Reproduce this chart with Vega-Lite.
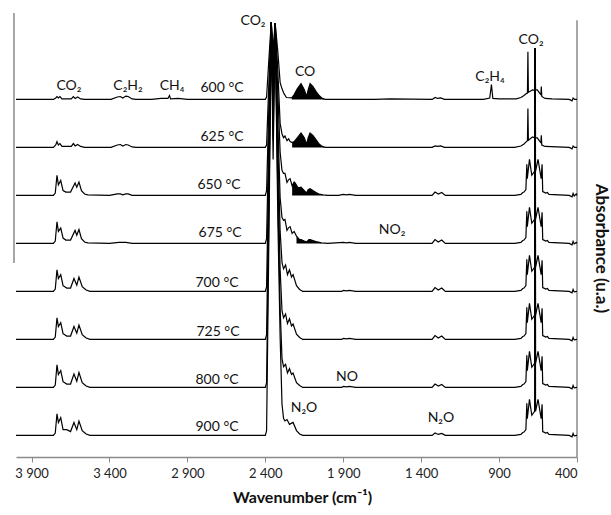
{
"$schema":"https://vega.github.io/schema/vega-lite/v6.json",
"width":561,"height":450,
"autosize":{"type":"none"},
"padding":{"left":16,"top":7,"right":34,"bottom":58},
"background":"white",
"config":{"view":{"stroke":null},"font":"Lato"},
"datasets":{
"sp":[
{"t":"600","w":4000,"a":7.45},{"t":"600","w":3760,"a":7.45},{"t":"600","w":3745,"a":7.48},{"t":"600","w":3737,"a":7.51},{"t":"600","w":3728,"a":7.48},{"t":"600","w":3718,"a":7.51},{"t":"600","w":3705,"a":7.46},{"t":"600","w":3645,"a":7.46},{"t":"600","w":3632,"a":7.51},{"t":"600","w":3620,"a":7.47},{"t":"600","w":3605,"a":7.5},{"t":"600","w":3585,"a":7.46},{"t":"600","w":3560,"a":7.45},{"t":"600","w":3390,"a":7.45},{"t":"600","w":3350,"a":7.5},{"t":"600","w":3330,"a":7.51},{"t":"600","w":3315,"a":7.48},{"t":"600","w":3295,"a":7.52},{"t":"600","w":3280,"a":7.51},{"t":"600","w":3255,"a":7.46},{"t":"600","w":3230,"a":7.45},{"t":"600","w":3130,"a":7.45},{"t":"600","w":3070,"a":7.47},{"t":"600","w":3025,"a":7.47},{"t":"600","w":3015,"a":7.53},{"t":"600","w":3008,"a":7.46},{"t":"600","w":2960,"a":7.47},{"t":"600","w":2900,"a":7.45},{"t":"600","w":2400,"a":7.45},{"t":"600","w":2392,"a":7.5},{"t":"600","w":2376,"a":8.35},{"t":"600","w":2362,"a":9.06},{"t":"600","w":2350,"a":8.5},{"t":"600","w":2337,"a":9.04},{"t":"600","w":2320,"a":8.45},{"t":"600","w":2305,"a":7.8},{"t":"600","w":2293,"a":7.67},{"t":"600","w":2280,"a":7.57},{"t":"600","w":2265,"a":7.49},{"t":"600","w":2230,"a":7.48},{"t":"600","w":2215,"a":7.55},{"t":"600","w":2195,"a":7.67},{"t":"600","w":2171,"a":7.78},{"t":"600","w":2150,"a":7.65},{"t":"600","w":2135,"a":7.51},{"t":"600","w":2125,"a":7.65},{"t":"600","w":2113,"a":7.78},{"t":"600","w":2095,"a":7.72},{"t":"600","w":2075,"a":7.62},{"t":"600","w":2055,"a":7.53},{"t":"600","w":2035,"a":7.47},{"t":"600","w":2015,"a":7.45},{"t":"600","w":1700,"a":7.45},{"t":"600","w":1600,"a":7.46},{"t":"600","w":1330,"a":7.45},{"t":"600","w":1310,"a":7.49},{"t":"600","w":1295,"a":7.47},{"t":"600","w":1275,"a":7.48},{"t":"600","w":1250,"a":7.45},{"t":"600","w":1000,"a":7.45},{"t":"600","w":960,"a":7.48},{"t":"600","w":949,"a":7.76},{"t":"600","w":940,"a":7.47},{"t":"600","w":900,"a":7.46},{"t":"600","w":790,"a":7.46},{"t":"600","w":760,"a":7.49},{"t":"600","w":740,"a":7.53},{"t":"600","w":725,"a":7.57},{"t":"600","w":718,"a":7.58},{"t":"600","w":715,"a":8.44},{"t":"600","w":712,"a":7.6},{"t":"600","w":700,"a":7.62},{"t":"600","w":685,"a":7.65},{"t":"600","w":672,"a":7.64},{"t":"600","w":669,"a":8.52},{"t":"600","w":666,"a":7.65},{"t":"600","w":655,"a":7.65},{"t":"600","w":640,"a":7.58},{"t":"600","w":632,"a":7.55},{"t":"600","w":629,"a":7.72},{"t":"600","w":626,"a":7.51},{"t":"600","w":605,"a":7.47},{"t":"600","w":560,"a":7.46},{"t":"600","w":450,"a":7.45},{"t":"600","w":432,"a":7.42},{"t":"600","w":425,"a":7.48},{"t":"600","w":415,"a":7.45},{"t":"600","w":400,"a":7.45},
{"t":"625","w":4000,"a":6.45},{"t":"625","w":3760,"a":6.45},{"t":"625","w":3745,"a":6.5},{"t":"625","w":3737,"a":6.57},{"t":"625","w":3728,"a":6.5},{"t":"625","w":3718,"a":6.53},{"t":"625","w":3705,"a":6.47},{"t":"625","w":3645,"a":6.47},{"t":"625","w":3632,"a":6.53},{"t":"625","w":3620,"a":6.48},{"t":"625","w":3605,"a":6.51},{"t":"625","w":3585,"a":6.47},{"t":"625","w":3560,"a":6.45},{"t":"625","w":3390,"a":6.45},{"t":"625","w":3350,"a":6.5},{"t":"625","w":3330,"a":6.51},{"t":"625","w":3315,"a":6.48},{"t":"625","w":3295,"a":6.51},{"t":"625","w":3280,"a":6.5},{"t":"625","w":3255,"a":6.46},{"t":"625","w":3230,"a":6.45},{"t":"625","w":2400,"a":6.45},{"t":"625","w":2392,"a":6.5},{"t":"625","w":2376,"a":7.9},{"t":"625","w":2362,"a":9.06},{"t":"625","w":2350,"a":8.2},{"t":"625","w":2337,"a":9.04},{"t":"625","w":2320,"a":8.05},{"t":"625","w":2305,"a":6.95},{"t":"625","w":2293,"a":6.73},{"t":"625","w":2283,"a":6.65},{"t":"625","w":2274,"a":6.69},{"t":"625","w":2261,"a":6.59},{"t":"625","w":2250,"a":6.63},{"t":"625","w":2241,"a":6.57},{"t":"625","w":2228,"a":6.55},{"t":"625","w":2215,"a":6.57},{"t":"625","w":2195,"a":6.65},{"t":"625","w":2171,"a":6.75},{"t":"625","w":2150,"a":6.65},{"t":"625","w":2135,"a":6.51},{"t":"625","w":2125,"a":6.65},{"t":"625","w":2113,"a":6.75},{"t":"625","w":2095,"a":6.7},{"t":"625","w":2075,"a":6.61},{"t":"625","w":2055,"a":6.52},{"t":"625","w":2035,"a":6.47},{"t":"625","w":2015,"a":6.45},{"t":"625","w":1700,"a":6.45},{"t":"625","w":1330,"a":6.45},{"t":"625","w":1310,"a":6.48},{"t":"625","w":1295,"a":6.47},{"t":"625","w":1275,"a":6.48},{"t":"625","w":1250,"a":6.45},{"t":"625","w":800,"a":6.45},{"t":"625","w":760,"a":6.48},{"t":"625","w":740,"a":6.52},{"t":"625","w":725,"a":6.57},{"t":"625","w":718,"a":6.59},{"t":"625","w":715,"a":7.26},{"t":"625","w":712,"a":6.6},{"t":"625","w":700,"a":6.63},{"t":"625","w":685,"a":6.67},{"t":"625","w":672,"a":6.65},{"t":"625","w":669,"a":8.52},{"t":"625","w":666,"a":6.65},{"t":"625","w":655,"a":6.65},{"t":"625","w":640,"a":6.58},{"t":"625","w":632,"a":6.55},{"t":"625","w":629,"a":6.7},{"t":"625","w":626,"a":6.5},{"t":"625","w":605,"a":6.47},{"t":"625","w":450,"a":6.45},{"t":"625","w":432,"a":6.42},{"t":"625","w":425,"a":6.48},{"t":"625","w":415,"a":6.45},{"t":"625","w":400,"a":6.45},
{"t":"650","w":4000,"a":5.45},{"t":"650","w":3760,"a":5.45},{"t":"650","w":3748,"a":5.5},{"t":"650","w":3737,"a":5.87},{"t":"650","w":3728,"a":5.67},{"t":"650","w":3713,"a":5.76},{"t":"650","w":3698,"a":5.55},{"t":"650","w":3680,"a":5.52},{"t":"650","w":3650,"a":5.52},{"t":"650","w":3621,"a":5.71},{"t":"650","w":3610,"a":5.62},{"t":"650","w":3596,"a":5.73},{"t":"650","w":3580,"a":5.55},{"t":"650","w":3560,"a":5.48},{"t":"650","w":3540,"a":5.46},{"t":"650","w":3400,"a":5.45},{"t":"650","w":3350,"a":5.48},{"t":"650","w":3330,"a":5.48},{"t":"650","w":3315,"a":5.46},{"t":"650","w":3295,"a":5.48},{"t":"650","w":3280,"a":5.48},{"t":"650","w":3255,"a":5.45},{"t":"650","w":2400,"a":5.45},{"t":"650","w":2392,"a":5.55},{"t":"650","w":2376,"a":7.45},{"t":"650","w":2362,"a":9.06},{"t":"650","w":2350,"a":7.95},{"t":"650","w":2337,"a":9.04},{"t":"650","w":2320,"a":7.6},{"t":"650","w":2305,"a":6.35},{"t":"650","w":2293,"a":5.97},{"t":"650","w":2283,"a":5.91},{"t":"650","w":2274,"a":5.91},{"t":"650","w":2261,"a":5.72},{"t":"650","w":2250,"a":5.78},{"t":"650","w":2241,"a":5.8},{"t":"650","w":2228,"a":5.65},{"t":"650","w":2215,"a":5.73},{"t":"650","w":2209,"a":5.71},{"t":"650","w":2190,"a":5.61},{"t":"650","w":2171,"a":5.62},{"t":"650","w":2150,"a":5.55},{"t":"650","w":2135,"a":5.5},{"t":"650","w":2125,"a":5.57},{"t":"650","w":2113,"a":5.59},{"t":"650","w":2095,"a":5.55},{"t":"650","w":2075,"a":5.51},{"t":"650","w":2055,"a":5.48},{"t":"650","w":2030,"a":5.46},{"t":"650","w":2000,"a":5.45},{"t":"650","w":1930,"a":5.45},{"t":"650","w":1900,"a":5.47},{"t":"650","w":1880,"a":5.46},{"t":"650","w":1860,"a":5.47},{"t":"650","w":1820,"a":5.45},{"t":"650","w":1330,"a":5.45},{"t":"650","w":1311,"a":5.52},{"t":"650","w":1290,"a":5.48},{"t":"650","w":1268,"a":5.51},{"t":"650","w":1245,"a":5.45},{"t":"650","w":800,"a":5.45},{"t":"650","w":760,"a":5.47},{"t":"650","w":748,"a":5.51},{"t":"650","w":740,"a":5.52},{"t":"650","w":728,"a":5.57},{"t":"650","w":722,"a":6.1},{"t":"650","w":719,"a":5.8},{"t":"650","w":705,"a":6.2},{"t":"650","w":690,"a":5.87},{"t":"650","w":672,"a":5.95},{"t":"650","w":669,"a":8.52},{"t":"650","w":666,"a":5.95},{"t":"650","w":650,"a":6.2},{"t":"650","w":630,"a":5.8},{"t":"650","w":624,"a":6.1},{"t":"650","w":620,"a":5.53},{"t":"650","w":600,"a":5.5},{"t":"650","w":590,"a":5.51},{"t":"650","w":580,"a":5.47},{"t":"650","w":450,"a":5.45},{"t":"650","w":432,"a":5.42},{"t":"650","w":425,"a":5.49},{"t":"650","w":418,"a":5.44},{"t":"650","w":405,"a":5.48},{"t":"650","w":400,"a":5.45},
{"t":"675","w":4000,"a":4.45},{"t":"675","w":3760,"a":4.45},{"t":"675","w":3748,"a":4.5},{"t":"675","w":3737,"a":4.9},{"t":"675","w":3728,"a":4.7},{"t":"675","w":3713,"a":4.77},{"t":"675","w":3698,"a":4.56},{"t":"675","w":3680,"a":4.52},{"t":"675","w":3650,"a":4.52},{"t":"675","w":3621,"a":4.72},{"t":"675","w":3610,"a":4.62},{"t":"675","w":3596,"a":4.74},{"t":"675","w":3580,"a":4.55},{"t":"675","w":3560,"a":4.48},{"t":"675","w":3540,"a":4.46},{"t":"675","w":3400,"a":4.45},{"t":"675","w":3340,"a":4.47},{"t":"675","w":3295,"a":4.47},{"t":"675","w":3255,"a":4.45},{"t":"675","w":2400,"a":4.45},{"t":"675","w":2392,"a":4.55},{"t":"675","w":2376,"a":6.95},{"t":"675","w":2362,"a":9.06},{"t":"675","w":2350,"a":7.65},{"t":"675","w":2337,"a":9.04},{"t":"675","w":2320,"a":7.0},{"t":"675","w":2305,"a":5.4},{"t":"675","w":2293,"a":4.99},{"t":"675","w":2283,"a":4.93},{"t":"675","w":2274,"a":4.95},{"t":"675","w":2261,"a":4.72},{"t":"675","w":2250,"a":4.78},{"t":"675","w":2241,"a":4.8},{"t":"675","w":2228,"a":4.66},{"t":"675","w":2215,"a":4.7},{"t":"675","w":2200,"a":4.6},{"t":"675","w":2180,"a":4.53},{"t":"675","w":2171,"a":4.53},{"t":"675","w":2150,"a":4.5},{"t":"675","w":2135,"a":4.48},{"t":"675","w":2120,"a":4.53},{"t":"675","w":2113,"a":4.53},{"t":"675","w":2095,"a":4.51},{"t":"675","w":2075,"a":4.49},{"t":"675","w":2040,"a":4.46},{"t":"675","w":2000,"a":4.45},{"t":"675","w":1900,"a":4.47},{"t":"675","w":1880,"a":4.46},{"t":"675","w":1860,"a":4.47},{"t":"675","w":1820,"a":4.45},{"t":"675","w":1330,"a":4.45},{"t":"675","w":1311,"a":4.53},{"t":"675","w":1290,"a":4.48},{"t":"675","w":1268,"a":4.52},{"t":"675","w":1245,"a":4.45},{"t":"675","w":800,"a":4.45},{"t":"675","w":760,"a":4.47},{"t":"675","w":748,"a":4.51},{"t":"675","w":740,"a":4.52},{"t":"675","w":728,"a":4.57},{"t":"675","w":722,"a":5.12},{"t":"675","w":719,"a":4.8},{"t":"675","w":705,"a":5.2},{"t":"675","w":690,"a":4.87},{"t":"675","w":672,"a":4.95},{"t":"675","w":669,"a":8.52},{"t":"675","w":666,"a":4.95},{"t":"675","w":650,"a":5.2},{"t":"675","w":630,"a":4.8},{"t":"675","w":624,"a":5.1},{"t":"675","w":620,"a":4.53},{"t":"675","w":600,"a":4.5},{"t":"675","w":590,"a":4.51},{"t":"675","w":580,"a":4.47},{"t":"675","w":450,"a":4.45},{"t":"675","w":432,"a":4.42},{"t":"675","w":425,"a":4.49},{"t":"675","w":418,"a":4.44},{"t":"675","w":405,"a":4.47},{"t":"675","w":400,"a":4.45},
{"t":"700","w":4000,"a":3.45},{"t":"700","w":3760,"a":3.45},{"t":"700","w":3748,"a":3.5},{"t":"700","w":3737,"a":3.9},{"t":"700","w":3728,"a":3.72},{"t":"700","w":3713,"a":3.8},{"t":"700","w":3698,"a":3.57},{"t":"700","w":3674,"a":3.52},{"t":"700","w":3650,"a":3.52},{"t":"700","w":3628,"a":3.72},{"t":"700","w":3610,"a":3.58},{"t":"700","w":3596,"a":3.75},{"t":"700","w":3575,"a":3.55},{"t":"700","w":3550,"a":3.48},{"t":"700","w":3525,"a":3.45},{"t":"700","w":2400,"a":3.45},{"t":"700","w":2392,"a":3.55},{"t":"700","w":2376,"a":6.4},{"t":"700","w":2362,"a":9.06},{"t":"700","w":2350,"a":7.3},{"t":"700","w":2337,"a":9.04},{"t":"700","w":2320,"a":6.5},{"t":"700","w":2305,"a":4.7},{"t":"700","w":2293,"a":4.05},{"t":"700","w":2283,"a":3.92},{"t":"700","w":2270,"a":4.0},{"t":"700","w":2258,"a":3.8},{"t":"700","w":2245,"a":3.9},{"t":"700","w":2232,"a":3.75},{"t":"700","w":2222,"a":3.8},{"t":"700","w":2200,"a":3.57},{"t":"700","w":2180,"a":3.49},{"t":"700","w":2160,"a":3.45},{"t":"700","w":1910,"a":3.45},{"t":"700","w":1900,"a":3.47},{"t":"700","w":1880,"a":3.46},{"t":"700","w":1860,"a":3.47},{"t":"700","w":1820,"a":3.45},{"t":"700","w":1330,"a":3.45},{"t":"700","w":1311,"a":3.53},{"t":"700","w":1290,"a":3.48},{"t":"700","w":1268,"a":3.52},{"t":"700","w":1245,"a":3.45},{"t":"700","w":800,"a":3.45},{"t":"700","w":760,"a":3.47},{"t":"700","w":748,"a":3.51},{"t":"700","w":740,"a":3.52},{"t":"700","w":728,"a":3.57},{"t":"700","w":722,"a":4.12},{"t":"700","w":719,"a":3.8},{"t":"700","w":705,"a":4.2},{"t":"700","w":690,"a":3.87},{"t":"700","w":672,"a":3.95},{"t":"700","w":669,"a":8.52},{"t":"700","w":666,"a":3.95},{"t":"700","w":650,"a":4.2},{"t":"700","w":630,"a":3.8},{"t":"700","w":624,"a":4.1},{"t":"700","w":620,"a":3.53},{"t":"700","w":600,"a":3.5},{"t":"700","w":590,"a":3.51},{"t":"700","w":580,"a":3.47},{"t":"700","w":450,"a":3.45},{"t":"700","w":432,"a":3.42},{"t":"700","w":425,"a":3.49},{"t":"700","w":418,"a":3.44},{"t":"700","w":400,"a":3.45},
{"t":"725","w":4000,"a":2.45},{"t":"725","w":3760,"a":2.45},{"t":"725","w":3748,"a":2.5},{"t":"725","w":3737,"a":2.9},{"t":"725","w":3728,"a":2.72},{"t":"725","w":3713,"a":2.8},{"t":"725","w":3698,"a":2.57},{"t":"725","w":3674,"a":2.52},{"t":"725","w":3650,"a":2.52},{"t":"725","w":3628,"a":2.72},{"t":"725","w":3610,"a":2.58},{"t":"725","w":3596,"a":2.75},{"t":"725","w":3575,"a":2.55},{"t":"725","w":3550,"a":2.48},{"t":"725","w":3525,"a":2.45},{"t":"725","w":2400,"a":2.45},{"t":"725","w":2392,"a":2.55},{"t":"725","w":2376,"a":5.9},{"t":"725","w":2362,"a":9.06},{"t":"725","w":2350,"a":7.0},{"t":"725","w":2337,"a":9.04},{"t":"725","w":2320,"a":6.0},{"t":"725","w":2305,"a":3.9},{"t":"725","w":2293,"a":3.05},{"t":"725","w":2283,"a":2.9},{"t":"725","w":2270,"a":2.98},{"t":"725","w":2258,"a":2.78},{"t":"725","w":2245,"a":2.88},{"t":"725","w":2232,"a":2.73},{"t":"725","w":2222,"a":2.77},{"t":"725","w":2200,"a":2.56},{"t":"725","w":2180,"a":2.49},{"t":"725","w":2160,"a":2.45},{"t":"725","w":1910,"a":2.45},{"t":"725","w":1900,"a":2.47},{"t":"725","w":1880,"a":2.46},{"t":"725","w":1860,"a":2.47},{"t":"725","w":1820,"a":2.45},{"t":"725","w":1330,"a":2.45},{"t":"725","w":1311,"a":2.53},{"t":"725","w":1290,"a":2.48},{"t":"725","w":1268,"a":2.52},{"t":"725","w":1245,"a":2.45},{"t":"725","w":800,"a":2.45},{"t":"725","w":760,"a":2.47},{"t":"725","w":748,"a":2.51},{"t":"725","w":740,"a":2.52},{"t":"725","w":728,"a":2.57},{"t":"725","w":722,"a":3.12},{"t":"725","w":719,"a":2.8},{"t":"725","w":705,"a":3.2},{"t":"725","w":690,"a":2.87},{"t":"725","w":672,"a":2.95},{"t":"725","w":669,"a":8.52},{"t":"725","w":666,"a":2.95},{"t":"725","w":650,"a":3.2},{"t":"725","w":630,"a":2.8},{"t":"725","w":624,"a":3.1},{"t":"725","w":620,"a":2.53},{"t":"725","w":600,"a":2.5},{"t":"725","w":590,"a":2.51},{"t":"725","w":580,"a":2.47},{"t":"725","w":450,"a":2.45},{"t":"725","w":432,"a":2.42},{"t":"725","w":425,"a":2.49},{"t":"725","w":418,"a":2.44},{"t":"725","w":400,"a":2.45},
{"t":"800","w":4000,"a":1.45},{"t":"800","w":3760,"a":1.45},{"t":"800","w":3748,"a":1.5},{"t":"800","w":3737,"a":1.92},{"t":"800","w":3728,"a":1.72},{"t":"800","w":3713,"a":1.8},{"t":"800","w":3698,"a":1.57},{"t":"800","w":3674,"a":1.52},{"t":"800","w":3650,"a":1.52},{"t":"800","w":3628,"a":1.73},{"t":"800","w":3610,"a":1.58},{"t":"800","w":3596,"a":1.76},{"t":"800","w":3575,"a":1.55},{"t":"800","w":3550,"a":1.48},{"t":"800","w":3525,"a":1.45},{"t":"800","w":2400,"a":1.45},{"t":"800","w":2392,"a":1.55},{"t":"800","w":2376,"a":5.4},{"t":"800","w":2362,"a":9.06},{"t":"800","w":2350,"a":6.6},{"t":"800","w":2337,"a":9.04},{"t":"800","w":2320,"a":5.5},{"t":"800","w":2305,"a":3.1},{"t":"800","w":2293,"a":2.05},{"t":"800","w":2283,"a":1.88},{"t":"800","w":2270,"a":1.93},{"t":"800","w":2258,"a":1.75},{"t":"800","w":2245,"a":1.84},{"t":"800","w":2232,"a":1.72},{"t":"800","w":2222,"a":1.75},{"t":"800","w":2200,"a":1.55},{"t":"800","w":2180,"a":1.49},{"t":"800","w":2160,"a":1.45},{"t":"800","w":1910,"a":1.45},{"t":"800","w":1900,"a":1.47},{"t":"800","w":1880,"a":1.46},{"t":"800","w":1860,"a":1.47},{"t":"800","w":1820,"a":1.45},{"t":"800","w":1330,"a":1.45},{"t":"800","w":1311,"a":1.52},{"t":"800","w":1290,"a":1.48},{"t":"800","w":1268,"a":1.51},{"t":"800","w":1245,"a":1.45},{"t":"800","w":800,"a":1.45},{"t":"800","w":760,"a":1.47},{"t":"800","w":748,"a":1.51},{"t":"800","w":740,"a":1.52},{"t":"800","w":728,"a":1.57},{"t":"800","w":722,"a":2.12},{"t":"800","w":719,"a":1.8},{"t":"800","w":705,"a":2.2},{"t":"800","w":690,"a":1.87},{"t":"800","w":672,"a":1.95},{"t":"800","w":669,"a":8.52},{"t":"800","w":666,"a":1.95},{"t":"800","w":650,"a":2.2},{"t":"800","w":630,"a":1.8},{"t":"800","w":624,"a":2.1},{"t":"800","w":620,"a":1.53},{"t":"800","w":600,"a":1.5},{"t":"800","w":590,"a":1.51},{"t":"800","w":580,"a":1.47},{"t":"800","w":450,"a":1.45},{"t":"800","w":432,"a":1.42},{"t":"800","w":425,"a":1.49},{"t":"800","w":418,"a":1.44},{"t":"800","w":400,"a":1.45},
{"t":"900","w":4000,"a":0.45},{"t":"900","w":3760,"a":0.45},{"t":"900","w":3748,"a":0.5},{"t":"900","w":3737,"a":0.9},{"t":"900","w":3728,"a":0.72},{"t":"900","w":3713,"a":0.82},{"t":"900","w":3698,"a":0.57},{"t":"900","w":3674,"a":0.57},{"t":"900","w":3650,"a":0.53},{"t":"900","w":3628,"a":0.72},{"t":"900","w":3610,"a":0.57},{"t":"900","w":3596,"a":0.75},{"t":"900","w":3575,"a":0.55},{"t":"900","w":3550,"a":0.48},{"t":"900","w":3525,"a":0.45},{"t":"900","w":2400,"a":0.45},{"t":"900","w":2392,"a":0.55},{"t":"900","w":2376,"a":4.9},{"t":"900","w":2362,"a":9.06},{"t":"900","w":2350,"a":6.2},{"t":"900","w":2337,"a":9.04},{"t":"900","w":2320,"a":5.0},{"t":"900","w":2305,"a":2.5},{"t":"900","w":2293,"a":1.1},{"t":"900","w":2283,"a":0.8},{"t":"900","w":2274,"a":0.75},{"t":"900","w":2261,"a":0.78},{"t":"900","w":2245,"a":0.68},{"t":"900","w":2222,"a":0.72},{"t":"900","w":2200,"a":0.55},{"t":"900","w":2180,"a":0.48},{"t":"900","w":2160,"a":0.45},{"t":"900","w":1330,"a":0.45},{"t":"900","w":1311,"a":0.5},{"t":"900","w":1290,"a":0.47},{"t":"900","w":1268,"a":0.49},{"t":"900","w":1245,"a":0.45},{"t":"900","w":800,"a":0.45},{"t":"900","w":760,"a":0.47},{"t":"900","w":748,"a":0.51},{"t":"900","w":740,"a":0.52},{"t":"900","w":728,"a":0.57},{"t":"900","w":722,"a":1.12},{"t":"900","w":719,"a":0.8},{"t":"900","w":705,"a":1.2},{"t":"900","w":690,"a":0.87},{"t":"900","w":672,"a":0.95},{"t":"900","w":669,"a":8.52},{"t":"900","w":666,"a":0.95},{"t":"900","w":650,"a":1.2},{"t":"900","w":630,"a":0.8},{"t":"900","w":624,"a":1.1},{"t":"900","w":620,"a":0.53},{"t":"900","w":600,"a":0.5},{"t":"900","w":590,"a":0.51},{"t":"900","w":580,"a":0.47},{"t":"900","w":450,"a":0.45},{"t":"900","w":432,"a":0.42},{"t":"900","w":425,"a":0.49},{"t":"900","w":418,"a":0.44},{"t":"900","w":400,"a":0.45}
],
"co":[
{"t":"600","w":2230,"a":7.48,"b":7.45},{"t":"600","w":2215,"a":7.55,"b":7.45},{"t":"600","w":2195,"a":7.67,"b":7.45},{"t":"600","w":2171,"a":7.78,"b":7.45},{"t":"600","w":2150,"a":7.65,"b":7.45},{"t":"600","w":2135,"a":7.51,"b":7.45},{"t":"600","w":2125,"a":7.65,"b":7.45},{"t":"600","w":2113,"a":7.78,"b":7.45},{"t":"600","w":2095,"a":7.72,"b":7.45},{"t":"600","w":2075,"a":7.62,"b":7.45},{"t":"600","w":2055,"a":7.53,"b":7.45},{"t":"600","w":2035,"a":7.47,"b":7.45},{"t":"600","w":2015,"a":7.45,"b":7.45},
{"t":"625","w":2228,"a":6.55,"b":6.45},{"t":"625","w":2215,"a":6.57,"b":6.45},{"t":"625","w":2195,"a":6.65,"b":6.45},{"t":"625","w":2171,"a":6.75,"b":6.45},{"t":"625","w":2150,"a":6.65,"b":6.45},{"t":"625","w":2135,"a":6.51,"b":6.45},{"t":"625","w":2125,"a":6.65,"b":6.45},{"t":"625","w":2113,"a":6.75,"b":6.45},{"t":"625","w":2095,"a":6.7,"b":6.45},{"t":"625","w":2075,"a":6.61,"b":6.45},{"t":"625","w":2055,"a":6.52,"b":6.45},{"t":"625","w":2035,"a":6.47,"b":6.45},{"t":"625","w":2015,"a":6.45,"b":6.45},
{"t":"650","w":2228,"a":5.65,"b":5.45},{"t":"650","w":2215,"a":5.73,"b":5.45},{"t":"650","w":2209,"a":5.71,"b":5.45},{"t":"650","w":2190,"a":5.61,"b":5.45},{"t":"650","w":2171,"a":5.62,"b":5.45},{"t":"650","w":2150,"a":5.55,"b":5.45},{"t":"650","w":2135,"a":5.5,"b":5.45},{"t":"650","w":2125,"a":5.57,"b":5.45},{"t":"650","w":2113,"a":5.59,"b":5.45},{"t":"650","w":2095,"a":5.55,"b":5.45},{"t":"650","w":2075,"a":5.51,"b":5.45},{"t":"650","w":2055,"a":5.48,"b":5.45},{"t":"650","w":2030,"a":5.46,"b":5.45},
{"t":"675","w":2200,"a":4.6,"b":4.45},{"t":"675","w":2180,"a":4.53,"b":4.45},{"t":"675","w":2171,"a":4.53,"b":4.45},{"t":"675","w":2150,"a":4.5,"b":4.45},{"t":"675","w":2135,"a":4.48,"b":4.45},{"t":"675","w":2120,"a":4.53,"b":4.45},{"t":"675","w":2113,"a":4.53,"b":4.45},{"t":"675","w":2095,"a":4.51,"b":4.45},{"t":"675","w":2075,"a":4.49,"b":4.45},{"t":"675","w":2040,"a":4.46,"b":4.45}
],
"fr":[{"w":4013,"a":9.25,"a2":4.04},{"w":400,"a":9.1,"a2":0}],
"lab":[
{"w":2479,"a":9.08,"s":"CO₂"},{"w":3660,"a":7.73,"s":"CO₂"},{"w":3281,"a":7.73,"s":"C₂H₂"},{"w":2999,"a":7.73,"s":"CH₄"},
{"w":2678,"a":7.69,"s":"600 °C"},{"w":2678,"a":6.67,"s":"625 °C"},{"w":2697,"a":5.67,"s":"650 °C"},{"w":2690,"a":4.67,"s":"675 °C"},{"w":2710,"a":3.63,"s":"700 °C"},{"w":2704,"a":2.6,"s":"725 °C"},{"w":2710,"a":1.6,"s":"800 °C"},{"w":2710,"a":0.63,"s":"900 °C"},
{"w":2145,"a":8.02,"s":"CO"},{"w":958,"a":7.92,"s":"C₂H₄"},{"w":695,"a":8.69,"s":"CO₂"},{"w":1587,"a":4.73,"s":"NO₂"},{"w":1876,"a":1.67,"s":"NO"},{"w":2152,"a":1.02,"s":"N₂O"},{"w":1273,"a":0.81,"s":"N₂O"}
]
},
"encoding":{
"x":{"field":"w","type":"quantitative","scale":{"domain":[400,4000],"reverse":true,"nice":false,"zero":false},
"axis":{"values":[3900,3400,2900,2400,1900,1400,900,400],"labelExpr":"replace(format(datum.value, ','), ',', ' ')","title":"Wavenumber (cm⁻¹)","grid":false,"domainColor":"#8a8a8a","domainWidth":1.5,"tickColor":"#8a8a8a","tickSize":5,"labelFont":"Lato","labelFontSize":13,"labelColor":"#222","labelPadding":5,"titleFont":"Lato","titleFontSize":16,"titleFontWeight":"bold","titleColor":"#111","titlePadding":9,"titleX":286}},
"y":{"field":"a","type":"quantitative","scale":{"domain":[0,9.375],"nice":false,"zero":false},
"axis":{"orient":"right","labels":false,"ticks":false,"domain":false,"grid":false,"title":"Absorbance (u.a.)","titleFont":"Lato","titleFontSize":17,"titleFontWeight":"bold","titleColor":"#111","titleAngle":90,"titleX":23,"titleY":241,"titleAlign":"center","titleBaseline":"middle"}}
},
"layer":[
{"data":{"name":"fr"},"mark":{"type":"rule","color":"#8a8a8a","strokeWidth":1.5},"encoding":{"y2":{"field":"a2"}}},
{"data":{"name":"co"},"mark":{"type":"area","color":"#000","opacity":1},"encoding":{"y2":{"field":"b"},"detail":{"field":"t"}}},
{"data":{"name":"sp"},"mark":{"type":"line","color":"#000","strokeWidth":1.2},"encoding":{"detail":{"field":"t"}}},
{"data":{"name":"lab"},"mark":{"type":"text","font":"Lato","fontSize":14,"color":"#111","align":"center","baseline":"middle"},"encoding":{"text":{"field":"s"}}}
]
}
